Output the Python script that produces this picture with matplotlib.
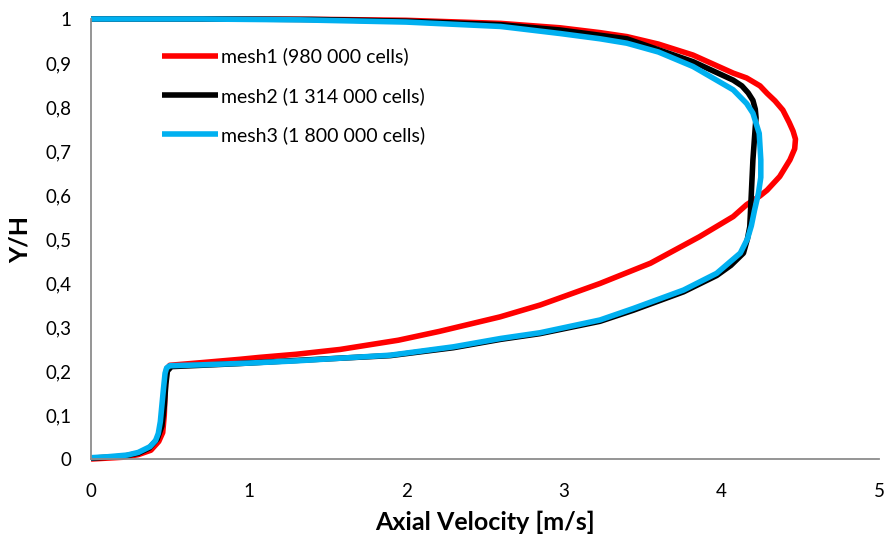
import matplotlib
matplotlib.use("Agg")
import matplotlib.pyplot as plt
from matplotlib.ticker import FuncFormatter

# mesh1 (980 000 cells) - red
x_mesh1 = [0.0, 0.2, 0.3, 0.38, 0.43, 0.455, 0.465, 0.47, 0.475, 0.48, 0.5, 0.7,
           0.945, 1.07, 1.3, 1.58, 1.95, 2.21, 2.595, 2.85, 3.23, 3.55, 3.86,
           4.075, 4.16, 4.245, 4.29, 4.37, 4.435, 4.465, 4.47, 4.455, 4.43,
           4.39, 4.34, 4.29, 4.245, 4.16, 4.075, 3.82, 3.6, 3.4, 3.23, 2.976,
           2.6, 2.0, 1.5, 0.8, 0.0]
y_mesh1 = [0.0, 0.004, 0.01, 0.02, 0.04, 0.06, 0.1, 0.15, 0.19, 0.205, 0.213, 0.219,
           0.2266, 0.231, 0.238, 0.249, 0.27, 0.29, 0.323, 0.35, 0.399, 0.445, 0.505,
           0.551, 0.578, 0.598, 0.611, 0.642, 0.68, 0.705, 0.727, 0.745, 0.765,
           0.793, 0.814, 0.831, 0.848, 0.866, 0.877, 0.918, 0.943, 0.96, 0.969,
           0.98, 0.99, 0.997, 0.999, 1.0, 1.0]

# mesh2 (1 314 000 cells) - black
x_mesh2 = [0.0, 0.2, 0.3, 0.37, 0.42, 0.45, 0.465, 0.475, 0.485, 0.51, 0.7,
           0.945, 1.3, 1.9, 2.3, 2.6, 2.85, 3.23, 3.44, 3.76, 3.97, 4.06,
           4.14, 4.165, 4.18, 4.19, 4.20, 4.215, 4.22, 4.215, 4.20, 4.17, 4.13,
           4.075, 3.82, 3.4, 2.976, 2.6, 2.0, 1.4, 0.8, 0.0]
y_mesh2 = [0.002, 0.006, 0.013, 0.025, 0.045, 0.075, 0.12, 0.17, 0.2, 0.21, 0.213,
           0.217, 0.224, 0.235, 0.253, 0.272, 0.285, 0.313, 0.338, 0.38, 0.417, 0.44,
           0.468, 0.5, 0.528, 0.604, 0.68, 0.755, 0.775, 0.795, 0.815, 0.832, 0.848,
           0.861, 0.903, 0.955, 0.975, 0.987, 0.995, 0.999, 1.0, 1.0]

# mesh3 (1 800 000 cells) - blue
x_mesh3 = [0.0, 0.1, 0.23, 0.3, 0.374, 0.41, 0.427, 0.44, 0.449, 0.46, 0.47,
           0.48, 0.5, 0.7, 1.0, 1.3, 1.9, 2.3, 2.6, 2.85, 3.23, 3.44, 3.76,
           3.97, 4.12, 4.165, 4.19, 4.21, 4.235, 4.25, 4.25, 4.24, 4.2, 4.16,
           4.075, 3.82, 3.6, 3.4, 3.23, 2.976, 2.6, 2.0, 1.33, 0.7, 0.0]
y_mesh3 = [0.003, 0.005, 0.009, 0.015, 0.028, 0.042, 0.058, 0.085, 0.119, 0.16, 0.195,
           0.207, 0.212, 0.214, 0.218, 0.223, 0.236, 0.255, 0.274, 0.287, 0.316, 0.342, 0.384,
           0.422, 0.468, 0.5, 0.53, 0.565, 0.604, 0.64, 0.68, 0.74, 0.786, 0.808,
           0.839, 0.892, 0.925, 0.945, 0.955, 0.967, 0.983, 0.993, 0.998, 1.0, 1.0]

labels = ["mesh1 (980 000 cells)", "mesh2 (1 314 000 cells)", "mesh3 (1 800 000 cells)"]
colors = ["#FF0000", "#000000", "#00B0F0"]

plt.rcParams['font.family'] = ['Lato', 'DejaVu Sans']

fig = plt.figure(figsize=(8.86, 5.38), dpi=100)
ax = fig.add_axes([0.1027, 0.1468, 0.8894, 0.8179])

series = [(x_mesh1, y_mesh1), (x_mesh2, y_mesh2), (x_mesh3, y_mesh3)]
for (xs, ys), lab, col in zip(series, labels, colors):
    ax.plot(xs, ys, color=col, lw=4, label=lab, clip_on=False,
            solid_joinstyle='round', solid_capstyle='butt')

ax.set_xlim(0, 5)
ax.set_ylim(0, 1)
ax.set_xticks([0, 1, 2, 3, 4, 5])
ax.set_yticks([i / 10 for i in range(11)])
ax.yaxis.set_major_formatter(FuncFormatter(lambda v, p: f"{v:.1f}".replace(".", ",") if 0 < v < 1 else f"{v:.0f}"))

for s in ['top', 'right']:
    ax.spines[s].set_visible(False)
for s in ['left', 'bottom']:
    ax.spines[s].set_color('#8c8c8c')
    ax.spines[s].set_linewidth(1.3)
ax.tick_params(axis='both', length=0, labelsize=13.5)
ax.tick_params(axis='x', pad=17)
ax.tick_params(axis='y', pad=14)

ax.set_xlabel('Axial Velocity [m/s]', fontsize=18, fontweight='bold', labelpad=8)
ax.set_ylabel('Y/H', fontsize=18, fontweight='bold', labelpad=10)

ax.legend(loc='upper left', bbox_to_anchor=(0.09, 0.935), frameon=False,
          fontsize=14, handlelength=2.9, handletextpad=0.15, labelspacing=1.1,
          borderpad=0, borderaxespad=0)

fig.savefig('out.png', dpi=100)
